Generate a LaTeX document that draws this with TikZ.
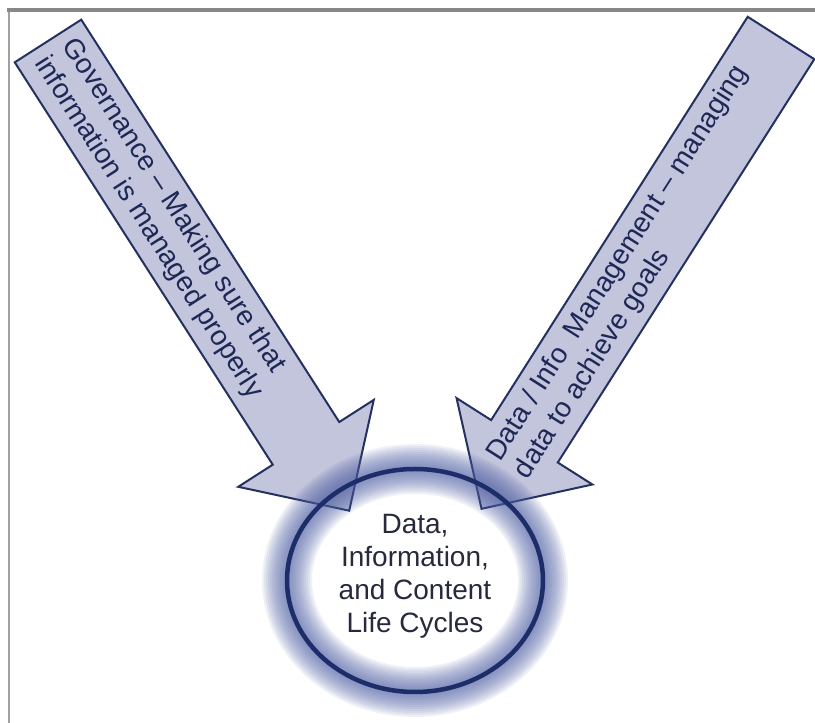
\documentclass[tikz,border=0pt]{standalone}
\usepackage{fontspec}
\setmainfont{Liberation Sans}
\usetikzlibrary{shapes.geometric,positioning,calc}
\definecolor{framegray}{HTML}{888888}
\definecolor{arrowfill}{HTML}{C3C5DC}
\definecolor{arrowline}{HTML}{243160}
\definecolor{navytext}{HTML}{1E2856}
\definecolor{ringnavy}{HTML}{1D2D6A}
\definecolor{glowblue}{HTML}{4F5FA3}
\definecolor{cycletext}{HTML}{272A3C}

\begin{document}
\begin{tikzpicture}[
  x=1pt,y=1pt,
  blockarrow/.style={draw=arrowline,line width=2pt,fill=arrowfill,line join=miter},
  arrowtext/.style={font=\fontsize{28}{33}\selectfont,text=navytext,align=left,
    inner sep=0pt,transform shape},
  glow/.style={draw=glowblue,opacity=0.09,line width=#1},
  ring/.style={ellipse,draw=ringnavy,line width=4.5pt,minimum width=256,minimum height=223},
]
  \useasboundingbox (0,0) rectangle (815,723);
  % frame
  \draw[framegray!80,line width=2pt] (9,713) -- (9,0);
  \draw[framegray,line width=4.5pt] (7,713) -- (815,713);

  % governance arrow
  \begin{scope}[shift={(48,682)},rotate=-57.33]
    \draw[blockarrow] (0,39.5) -- (478,39.5) -- (478,80.5) -- (558,0)
      -- (478,-80.5) -- (478,-39.5) -- (0,-39.5) -- cycle;
    \node[arrowtext,anchor=west] (gov) at (11,0)
      {Governance -- Making sure that\\information is managed properly};
  \end{scope}

  % management arrow
  \begin{scope}[shift={(781,685)},rotate=-122.46]
    \draw[blockarrow] (0,39.5) -- (478,39.5) -- (478,80.5) -- (558,0)
      -- (478,-80.5) -- (478,-39.5) -- (0,-39.5) -- cycle;
    \node[arrowtext,anchor=west,rotate=180] (mgmt) at (509,0)
      {Data / Info\ \ Management -- managing\\data to achieve goals};
  \end{scope}

  % life cycle ring
  \coordinate (ringc) at (415,142.5);
  \foreach \w in {50,46,...,6}
    \draw[glow=\w pt] (ringc) ellipse [x radius=128,y radius=111.5];
  \node[ring] (cycle) at (ringc) {};
  \node[font=\fontsize{28}{33}\selectfont,text=cycletext,align=center,inner sep=0pt]
    (life) at ([yshift=4]cycle.center) {Data,\\Information,\\and Content\\Life Cycles};
\end{tikzpicture}
\end{document}
